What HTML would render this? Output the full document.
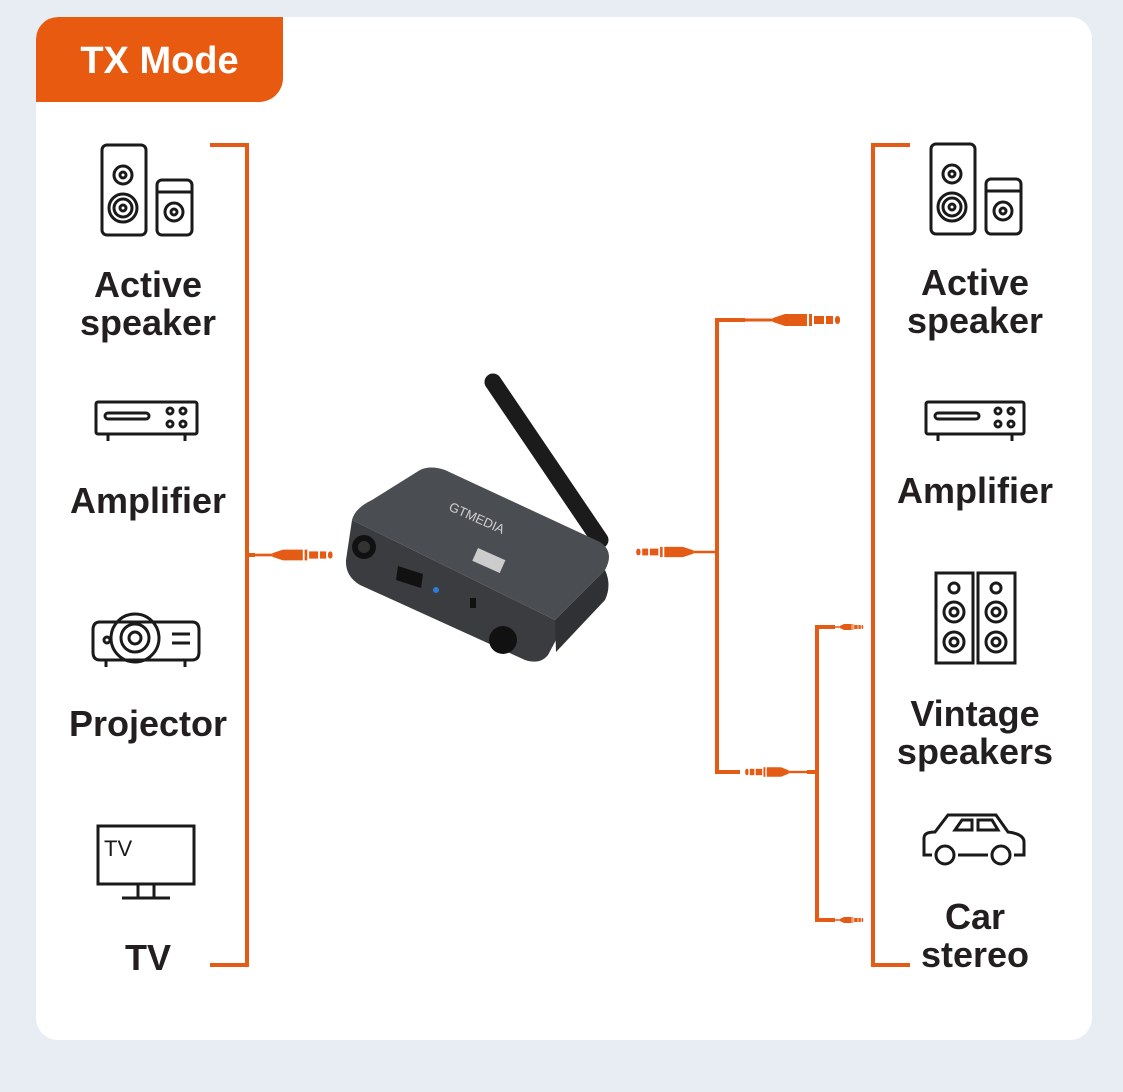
<!DOCTYPE html>
<html><head><meta charset="utf-8">
<style>
html,body{margin:0;padding:0;background:#e7edf2;}
body{width:1123px;height:1092px;position:relative;overflow:hidden;font-family:"Liberation Sans",sans-serif;}
.card{position:absolute;left:36px;top:17px;width:1056px;height:1023px;background:#fff;border-radius:22px;overflow:hidden;}
.tab{position:absolute;left:0;top:0;width:247px;height:85px;background:#e85a0f;border-radius:22px 0 24px 0;color:#fff;font-weight:bold;font-size:38px;line-height:88px;text-align:center;}
.lbl{position:absolute;font-weight:bold;font-size:36px;color:#231f1f;text-align:center;line-height:38px;width:260px;}
svg{position:absolute;left:0;top:0;}
</style></head><body>
<div class="card"><div class="tab">TX Mode</div></div>

<div class="lbl" style="left:18px;top:266px">Active<br>speaker</div>
<div class="lbl" style="left:18px;top:482px">Amplifier</div>
<div class="lbl" style="left:18px;top:705px">Projector</div>
<div class="lbl" style="left:18px;top:939px">TV</div>
<div class="lbl" style="left:845px;top:264px">Active<br>speaker</div>
<div class="lbl" style="left:845px;top:472px">Amplifier</div>
<div class="lbl" style="left:845px;top:695px">Vintage<br>speakers</div>
<div class="lbl" style="left:845px;top:898px">Car<br>stereo</div>

<svg width="1123" height="1092" viewBox="0 0 1123 1092">
<defs>
<g id="jackR">
<rect x="0" y="-1.5" width="28" height="3"/>
<path d="M28,-2 L40,-6 L62,-6 L62,6 L40,6 L28,2Z"/>
<rect x="64" y="-6" width="3" height="12"/>
<rect x="69" y="-4" width="10" height="8"/>
<rect x="81" y="-4" width="7" height="8"/>
<rect x="90" y="-4" width="5" height="8" rx="3"/>
</g>
</defs>
<g fill="none" stroke="#e35b14" stroke-width="4">
<path d="M210,145 H247 V965 H210"/>
<path d="M910,145 H873 V965 H910"/>
<path d="M717,555 V320 H745"/>
<path d="M717,555 V772 H740"/>
<path d="M807,772 H817 V627 H835"/>
<path d="M817,772 V920 H835"/>
<path d="M247,555 H255"/>
</g>
<g fill="#e35b14">
<use href="#jackR" transform="translate(745,320)"/>
<use href="#jackR" transform="translate(717,552) scale(-1,1) scale(0.85)"/>
<use href="#jackR" transform="translate(807,772) scale(-0.65,0.8)"/>
<use href="#jackR" transform="translate(247,555) scale(0.9)"/>
<use href="#jackR" transform="translate(830,627) scale(0.35,0.5)"/>
<use href="#jackR" transform="translate(830,920) scale(0.35,0.5)"/>
</g>

<g fill="none" stroke="#1a1a1a" stroke-width="3">
<rect x="102" y="145" width="44" height="90" rx="5"/><circle cx="123" cy="175" r="9"/><circle cx="123" cy="175" r="3"/>
<circle cx="123" cy="208" r="14"/><circle cx="123" cy="208" r="9"/><circle cx="123" cy="208" r="3"/>
<rect x="157" y="180" width="35" height="55" rx="5"/><line x1="157" y1="192" x2="192" y2="192"/><circle cx="174" cy="212" r="9"/><circle cx="174" cy="212" r="3"/>
<rect x="931" y="144" width="44" height="90" rx="5"/><circle cx="952" cy="174" r="9"/><circle cx="952" cy="174" r="3"/>
<circle cx="952" cy="207" r="14"/><circle cx="952" cy="207" r="9"/><circle cx="952" cy="207" r="3"/>
<rect x="986" y="179" width="35" height="55" rx="5"/><line x1="986" y1="191" x2="1021" y2="191"/><circle cx="1003" cy="211" r="9"/><circle cx="1003" cy="211" r="3"/>
<rect x="96" y="402" width="101" height="32" rx="2"/><line x1="108" y1="434" x2="108" y2="441"/><line x1="185" y1="434" x2="185" y2="441"/>
<rect x="105" y="413" width="44" height="6" rx="3"/><circle cx="170" cy="411" r="3"/><circle cx="183" cy="411" r="3"/><circle cx="170" cy="424" r="3"/><circle cx="183" cy="424" r="3"/>
<rect x="926" y="402" width="98" height="32" rx="2"/><line x1="938" y1="434" x2="938" y2="441"/><line x1="1012" y1="434" x2="1012" y2="441"/>
<rect x="935" y="413" width="44" height="6" rx="3"/><circle cx="998" cy="411" r="3"/><circle cx="1011" cy="411" r="3"/><circle cx="998" cy="424" r="3"/><circle cx="1011" cy="424" r="3"/>
<path d="M100,622 H150 M180,622 H192 Q199,622 199,630 V652 Q199,660 192,660 H100 Q93,660 93,652 V630 Q93,622 100,622Z"/>
<circle cx="135" cy="638" r="24"/><circle cx="135" cy="638" r="14"/><circle cx="135" cy="638" r="6"/>
<line x1="172" y1="634" x2="190" y2="634"/><line x1="172" y1="643" x2="190" y2="643"/><circle cx="107" cy="640" r="3"/>
<line x1="106" y1="660" x2="106" y2="667"/><line x1="185" y1="660" x2="185" y2="667"/>
<rect x="98" y="826" width="96" height="58"/><line x1="138" y1="884" x2="138" y2="897"/><line x1="154" y1="884" x2="154" y2="897"/><line x1="122" y1="898" x2="170" y2="898"/>
<rect x="936" y="573" width="37" height="90"/><rect x="978" y="573" width="37" height="90"/>
<circle cx="954" cy="588" r="5"/><circle cx="954" cy="612" r="10"/><circle cx="954" cy="612" r="4"/><circle cx="954" cy="642" r="10"/><circle cx="954" cy="642" r="4"/>
<circle cx="996" cy="588" r="5"/><circle cx="996" cy="612" r="10"/><circle cx="996" cy="612" r="4"/><circle cx="996" cy="642" r="10"/><circle cx="996" cy="642" r="4"/>
<path d="M932,855 H924 V838 Q924,832 935,832 L948,815 H996 L1008,832 Q1024,834 1024,842 V855 H1014 M988,855 H958"/>
<path d="M955,830 L962,820 H972 V830Z M978,820 H992 L998,830 H978Z"/>
<circle cx="945" cy="855" r="9"/><circle cx="1001" cy="855" r="9"/>
</g>
<text x="104" y="856" font-family="Liberation Sans" font-size="22" fill="#1a1a1a">TV</text>

<line x1="493" y1="382" x2="600" y2="540" stroke="#1b1b1b" stroke-width="17" stroke-linecap="round"/>
<path d="M352,520 Q355,508 372,500 L420,470 Q430,465 445,470 L600,542 Q615,552 605,570 L555,620 Z" fill="#4a4d52"/>
<path d="M352,520 L555,620 Q560,628 556,640 L548,655 Q540,665 525,660 L360,585 Q345,576 346,560 Z" fill="#3a3c40"/>
<path d="M555,620 L605,570 Q612,585 605,600 L556,652 Z" fill="#2f3135"/>
<circle cx="364" cy="547" r="12" fill="#111"/><circle cx="364" cy="547" r="6" fill="#333"/>
<path d="M398,566 L423,574 L421,588 L396,580Z" fill="#111"/>
<circle cx="436" cy="590" r="3" fill="#2f7bdc"/>
<rect x="470" y="598" width="6" height="10" fill="#111"/>
<circle cx="503" cy="640" r="14" fill="#111"/>
<text x="448" y="510" font-family="Liberation Sans" font-size="13" fill="#cfcfcf" transform="rotate(24 448 510)">GTMEDIA</text>
<rect x="478" y="548" width="30" height="14" fill="#ccc" transform="rotate(24 478 548)"/>
</svg>
</body></html>
